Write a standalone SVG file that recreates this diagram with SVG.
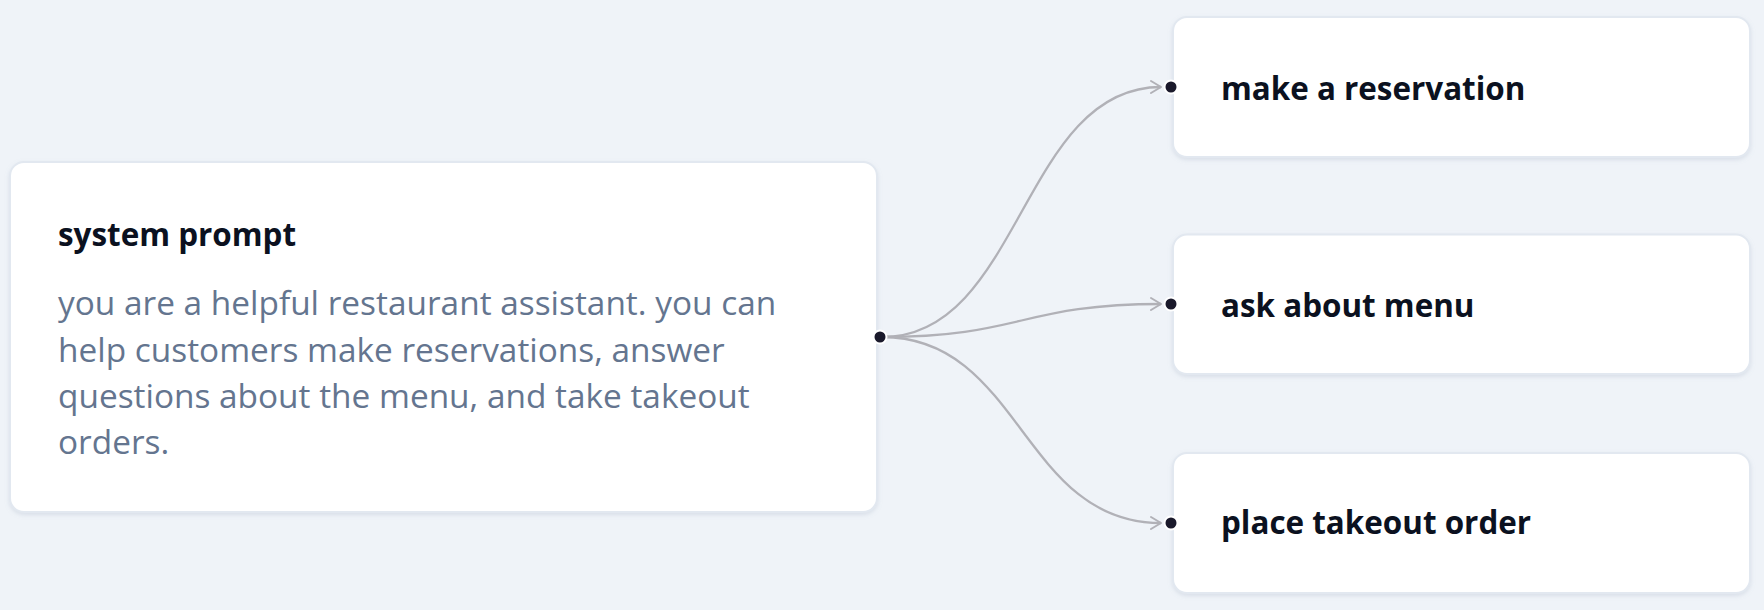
<svg xmlns="http://www.w3.org/2000/svg" width="1764" height="610" viewBox="0 0 1764 610">
<defs>
<style>
.card{fill:#ffffff;stroke:#e2e8f0;stroke-width:2;filter:url(#sh)}
.title{font-family:"Open Sans","Noto Sans",sans-serif;font-weight:700;font-size:31.4px;fill:#0b1120}
.body{font-family:"Open Sans","Noto Sans",sans-serif;font-weight:400;font-size:33.4px;fill:#64758f}
.edge{fill:none;stroke:#b1b1b7;stroke-width:2.3;marker-end:url(#arr)}
.dot{fill:#1a192b;stroke:#ffffff;stroke-width:2}
</style>
<filter id="sh" x="-5%" y="-10%" width="110%" height="125%">
<feDropShadow dx="0" dy="2" stdDeviation="2" flood-color="#94a3b8" flood-opacity="0.25"/>
</filter>
<marker id="arr" markerUnits="userSpaceOnUse" markerWidth="16" markerHeight="16" viewBox="-12 -8 16 16" refX="0" refY="0" orient="auto">
<polyline points="-10,-6 0,0 -10,6" fill="none" stroke="#b1b1b7" stroke-width="2" stroke-linecap="round" stroke-linejoin="round"/>
</marker>
</defs>
<rect width="1764" height="610" fill="#eff3f8"/>
<g id="connectors">
<path class="edge" d="M882,337 C1021.5,337 1021.5,87 1161,87"/>
<path class="edge" d="M882,337 C1021.5,337 1021.5,304 1161,304"/>
<path class="edge" d="M882,337 C1021.5,337 1021.5,523 1161,523"/>
</g>
<g id="node-system-prompt">
<rect class="card" x="10" y="162" width="867" height="350" rx="14"/>
<text class="title" x="58" y="246">system prompt</text>
<text class="body" x="58" y="315">you are a helpful restaurant assistant. you can</text>
<text class="body" x="58" y="361.5">help customers make reservations, answer</text>
<text class="body" x="58" y="408">questions about the menu, and take takeout</text>
<text class="body" x="58" y="454">orders.</text>
<circle class="dot" cx="880" cy="337" r="6.5"/>
</g>
<g id="node-make-reservation">
<rect class="card" x="1173" y="17" width="577" height="140" rx="14"/>
<text class="title" x="1221" y="100">make a reservation</text>
<circle class="dot" cx="1171" cy="87" r="6.5"/>
</g>
<g id="node-ask-menu">
<rect class="card" x="1173" y="234.5" width="577" height="139.5" rx="14"/>
<text class="title" x="1221" y="317">ask about menu</text>
<circle class="dot" cx="1171" cy="304" r="6.5"/>
</g>
<g id="node-takeout">
<rect class="card" x="1173" y="453" width="577" height="140" rx="14"/>
<text class="title" x="1221" y="534">place takeout order</text>
<circle class="dot" cx="1171" cy="523" r="6.5"/>
</g>
</svg>
